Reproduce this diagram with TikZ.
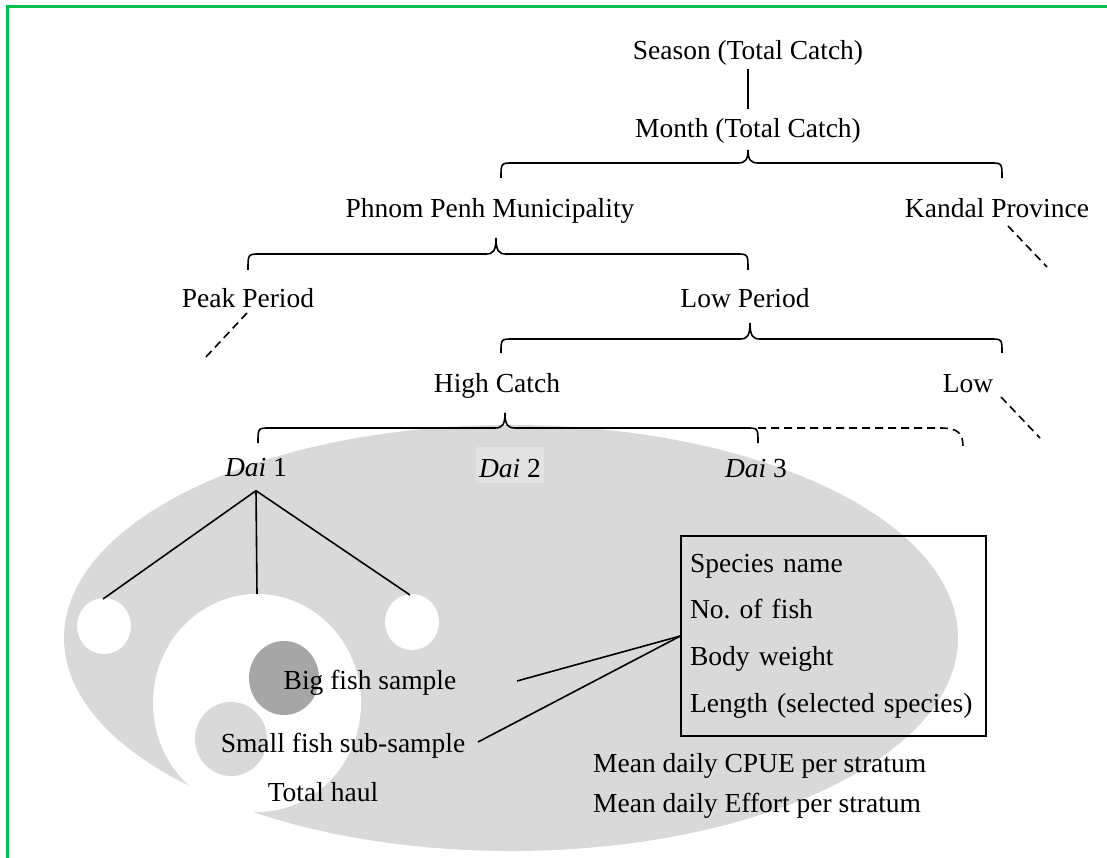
\documentclass[tikz,border=0pt]{standalone}
\usepackage{fontspec}
\setmainfont{Liberation Serif}
\definecolor{frame}{RGB}{0,190,80}
\definecolor{ellgray}{RGB}{217,217,217}
\definecolor{darkfish}{RGB}{166,166,166}
\definecolor{daibg}{RGB}{226,226,226}
\newcommand\mybrace[6]{%
  \draw[braceline] (#1,#6) .. controls (#1,#4) and (#1,#4) .. ({#1+12},#4) -- ({#2-10},#4)
    .. controls ({#2-3},#4) and (#2,{#4-3}) .. (#2,#5)
    .. controls (#2,{#4-3}) and ({#2+3},#4) .. ({#2+10},#4) -- ({#3-12},#4)
    .. controls (#3,#4) and (#3,#4) .. (#3,#6);}
\begin{document}
\begin{tikzpicture}[x=1pt,y=-1pt,
  lbl/.style={font=\fontsize{27.5}{33}\selectfont, inner sep=3pt, text height=25pt, text depth=6pt},
  braceline/.style={line width=1.6pt},
  conn/.style={line width=1.6pt},
  dashconn/.style={line width=1.6pt, dash pattern=on 8pt off 5pt}]
\useasboundingbox (0,0) rectangle (1107,858);
% frame
\draw[frame, line width=2.5pt] (7.5,858) -- (7.5,6.5) -- (1107,6.5);
% big ellipse and circles
\fill[ellgray] (511,638) ellipse [x radius=447, y radius=213];
\fill[white] (104,626) ellipse [x radius=27, y radius=28];
\fill[white] (412,622) ellipse [x radius=27, y radius=28];
\fill[white] (257,703) ellipse [x radius=104, y radius=109];
\fill[darkfish] (284,678) ellipse [x radius=35, y radius=37];
\fill[ellgray] (231,739) ellipse [x radius=36, y radius=37];
% hierarchy nodes
\node[lbl] (season) at (748,50) {Season (Total Catch)};
\node[lbl] (month) at (748,128) {Month (Total Catch)};
\node[lbl] (pp) at (490,208) {Phnom Penh Municipality};
\node[lbl] (kandal) at (997,208) {Kandal Province};
\node[lbl] (peak) at (248,298) {Peak Period};
\node[lbl] (lowp) at (745,298) {Low Period};
\node[lbl] (high) at (497,383) {High Catch};
\node[lbl] (low) at (968,383) {Low};
\node[lbl, inner ysep=8pt] (dai1) at (256,467) {\textit{Dai} 1};
\node[lbl, fill=daibg, inner xsep=3.5pt, inner ysep=0pt, text height=30.5pt, text depth=5.5pt] (dai2) at (510,465) {\textit{Dai} 2};
\node[lbl] (dai3) at (756,468) {\textit{Dai} 3};
% connectors
\draw[conn] (season.south) -- (month.north);
\mybrace{501}{748}{1002}{163}{150}{178}
\mybrace{248}{496}{748}{254}{238}{270}
\mybrace{501}{750}{1002}{339}{323}{353}
\mybrace{258}{505}{758}{428}{413}{443}
\coordinate (kd) at (1047,267);
\coordinate (pk) at (205,358);
\coordinate (lw) at (1040,438);
\draw[dashconn] (1008,226) -- (kd);
\draw[dashconn] (247,313) -- (pk);
\draw[dashconn] (1001,397) -- (lw);
\coordinate (d4) at (963,447);
\draw[dashconn] (758,428) -- (940,428) .. controls (958,428) and (963,433) .. (d4);
% Dai 1 sampling
\coordinate (c1) at (103,599);
\coordinate (c2) at (257,594);
\coordinate (c3) at (410,595);
\draw[conn] (dai1.south) -- (c1);
\draw[conn] (dai1.south) -- (c2);
\draw[conn] (dai1.south) -- (c3);
\node[lbl, inner sep=0pt] (big) at (370,680) {Big fish sample};
\node[lbl, inner sep=0pt] (small) at (343,743) {Small fish sub-sample};
\node[lbl, inner sep=0pt] (haul) at (323,792) {Total haul};
% data box
\node[draw, line width=1.2pt, minimum width=305pt, minimum height=200pt, inner sep=0pt,
  text width=287pt, align=left, font=\fontsize{27.5}{46.7}\selectfont] (box) at (833.5,636)
  {Species name\\No.\ of fish\\Body weight\\Length (selected species)};
\coordinate (b1) at (517,681);
\coordinate (b2) at (478,742);
\draw[conn] (b1) -- (box.west);
\draw[conn] (b2) -- (box.west);
\node[lbl, inner sep=0pt, anchor=west] (cpue) at (593,763) {Mean daily CPUE per stratum};
\node[lbl, inner sep=0pt, anchor=west] (eff) at (593,803) {Mean daily Effort per stratum};
\end{tikzpicture}
\end{document}
